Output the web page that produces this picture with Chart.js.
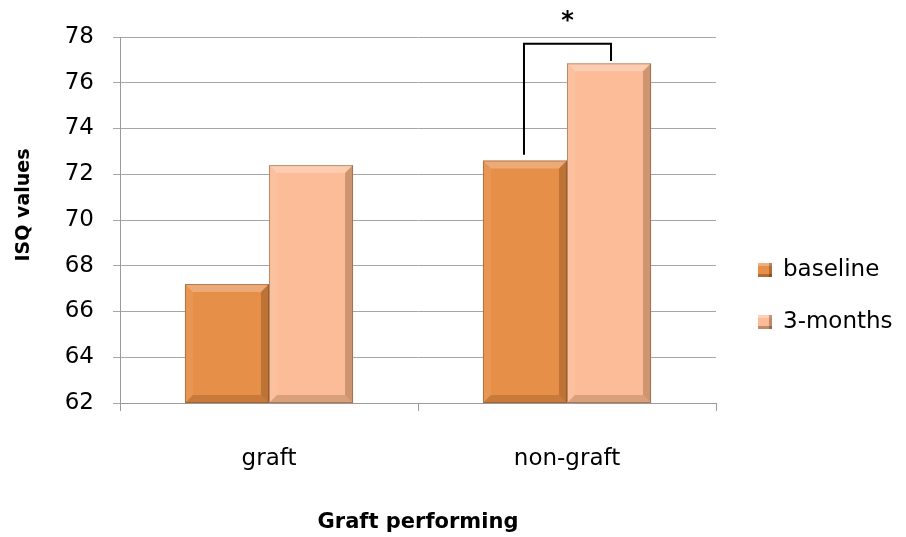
<!DOCTYPE html>
<html>
<head>
<meta charset="utf-8">
<script src="https://cdn.jsdelivr.net/npm/chart.js@4"></script>
<style>
  html, body { margin: 0; padding: 0; background: #fff; }
  #wrap { width: 906px; height: 537px; }
</style>
</head>
<body>
<div id="wrap"><canvas id="myChart" width="906" height="537"></canvas></div>
<script>
const categories = ['graft', 'non-graft'];
const seriesNames = ['baseline', '3-months'];
const baselineValues = [67.2, 72.6];
const threeMonthValues = [72.4, 76.85];
const yTicks = [62, 64, 66, 68, 70, 72, 74, 76, 78];
const yTitle = 'ISQ values';
// significance bracket: left foot, top, right foot (ISQ values)
const bracket = [72.85, 77.7, 76.95];
const bracketLabel = '*';

const baseFont = "'DejaVu Sans', sans-serif";

// bevelled look of the bars (light top/left edge, dark right/bottom edge)
const bevelPlugin = {
  id: 'bevel',
  afterDatasetsDraw(chart) {
    const ctx = chart.ctx;
    const b = 8;
    ctx.save();
    chart.data.datasets.forEach((ds, i) => {
      chart.getDatasetMeta(i).data.forEach(bar => {
        const l = bar.x - bar.width / 2, r = bar.x + bar.width / 2;
        const t = bar.y, bt = Math.min(bar.base, chart.chartArea.bottom);
        const poly = (pts, fill) => {
          ctx.beginPath();
          ctx.moveTo(pts[0][0], pts[0][1]);
          pts.slice(1).forEach(p => ctx.lineTo(p[0], p[1]));
          ctx.closePath();
          ctx.fillStyle = fill;
          ctx.fill();
        };
        poly([[l, t], [r, t], [r - b, t + b], [l + b, t + b]], 'rgba(255,255,255,0.25)');
        poly([[l, t], [l + b, t + b], [l + b, bt - b], [l, bt]], 'rgba(255,255,255,0.07)');
        poly([[r, t], [r, bt], [r - b, bt - b], [r - b, t + b]], 'rgba(70,30,0,0.25)');
        poly([[l, bt], [r, bt], [r - b, bt - b], [l + b, bt - b]], 'rgba(70,30,0,0.18)');
        ctx.strokeStyle = 'rgba(110,70,40,0.45)';
        ctx.lineWidth = 1;
        ctx.strokeRect(l + 0.5, t + 0.5, r - l - 1, bt - t - 1);
      });
    });
    ctx.restore();
  }
};

// draws the * bracket between the non-graft bars
const bracketPlugin = {
  id: 'bracket',
  afterDatasetsDraw(chart) {
    const y = chart.scales.y;
    const b0 = chart.getDatasetMeta(0).data[1];
    const b1 = chart.getDatasetMeta(1).data[1];
    const x0 = b0.x - 1;
    const x1 = b1.x + 2;
    const ctx = chart.ctx;
    ctx.save();
    ctx.strokeStyle = '#000';
    ctx.lineWidth = 2;
    ctx.beginPath();
    ctx.moveTo(x0, y.getPixelForValue(bracket[0]));
    ctx.lineTo(x0, y.getPixelForValue(bracket[1]));
    ctx.lineTo(x1, y.getPixelForValue(bracket[1]));
    ctx.lineTo(x1, y.getPixelForValue(bracket[2]));
    ctx.stroke();
    ctx.fillStyle = '#000';
    ctx.font = 'bold 24px ' + baseFont;
    ctx.textAlign = 'center';
    ctx.textBaseline = 'middle';
    ctx.fillText(bracketLabel, (x0 + x1) / 2, y.getPixelForValue(bracket[1]) - 22);
    ctx.restore();
  }
};

// legend on the right + y title (sits a bit above the axis middle)
const legendPlugin = {
  id: 'sideLegend',
  afterDraw(chart) {
    const ctx = chart.ctx;
    const area = chart.chartArea;
    const x = area.right + 42;
    const mid = (area.top + area.bottom) / 2;
    ctx.save();
    ctx.font = '23px ' + baseFont;
    ctx.textBaseline = 'middle';
    chart.data.datasets.forEach((ds, i) => {
      const cy = mid + 50 + i * 52;
      ctx.fillStyle = ds.backgroundColor;
      ctx.fillRect(x, cy - 7, 14, 14);
      ctx.fillStyle = 'rgba(255,255,255,0.3)';
      ctx.fillRect(x, cy - 7, 14, 3);
      ctx.fillStyle = 'rgba(60,25,0,0.3)';
      ctx.fillRect(x + 11, cy - 7, 3, 14);
      ctx.fillRect(x, cy + 4, 14, 3);
      ctx.fillStyle = '#000';
      ctx.fillText(ds.label, x + 25, cy);
    });

    ctx.translate(24, mid - 15);
    ctx.rotate(-Math.PI / 2);
    ctx.font = 'bold 19px ' + baseFont;
    ctx.textAlign = 'center';
    ctx.fillText(yTitle, 0, 0);
    ctx.restore();
  }
};

const ctx = document.getElementById('myChart').getContext('2d');
new Chart(ctx, {
  type: 'bar',
  data: {
    labels: categories,
    datasets: [{
      label: seriesNames[0],
      data: baselineValues,
      backgroundColor: '#E68F48',
      borderWidth: 0
    }, {
      label: seriesNames[1],
      data: threeMonthValues,
      backgroundColor: '#FBBC97',
      borderWidth: 0
    }]
  },
  options: {
    responsive: false,
    animation: false,
    barPercentage: 1,
    categoryPercentage: 0.564,
    layout: { padding: { top: 37, right: 190, left: 12, bottom: 0 } },
    scales: {
      x: {
        afterFit: axis => { axis.height = 134; },
        grid: { display: true, drawOnChartArea: false, offset: true, tickLength: 8, color: '#9a9a9a' },
        border: { color: '#9a9a9a' },
        ticks: { color: '#000', font: { family: baseFont, size: 23 }, padding: 34 },
        title: { display: true, text: 'Graft performing', color: '#000', font: { family: baseFont, size: 21, weight: 'bold' }, padding: { top: 0, bottom: 2 } }
      },
      y: {
        min: 62, max: 78,
        afterFit: axis => { axis.width = 108; },
        afterBuildTicks: axis => { axis.ticks = yTicks.map(v => ({ value: v })); },
        grid: { color: '#a6a6a6', tickLength: 7 },
        border: { color: '#9a9a9a' },
        ticks: { color: '#000', font: { family: baseFont, size: 23 }, padding: 19 },
        title: { display: false }
      }
    },
    plugins: {
      legend: { display: false },
      tooltip: { enabled: false }
    }
  },
  plugins: [bevelPlugin, bracketPlugin, legendPlugin]
});
</script>
</body>
</html>
